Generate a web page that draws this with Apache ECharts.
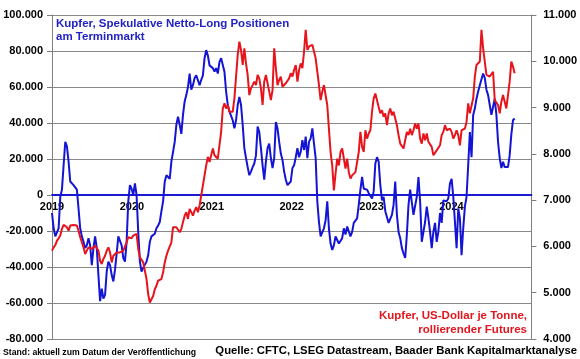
<!DOCTYPE html>
<html>
<head>
<meta charset="utf-8">
<script src="https://cdn.jsdelivr.net/npm/echarts@6/dist/echarts.min.js"></script>
<style>html,body{margin:0;padding:0;background:#fff;}#c{width:580px;height:359px;}</style>
</head>
<body>
<div id="c"></div>
<script>
// Sampling: first point at start of 2019, then one point about every 7.6 days
const startYear = 2019.0;
const stepYears = 0.020755;

// Kupfer, spekulative Netto-Long Positionen (Kontrakte), linke Achse
const netLong = [
  -10000, -18500, -23000, -24000, -18500, -1000, 3000, 16500, 29500, 27000,
  18500, 7500, 6500, 5500, 5500, 3000, -7500, -18500, -23000, -26000,
  -29500, -28000, -24000, -28000, -39000, -29500, -23000, -29500, -44500, -59000,
  -52000, -57500, -55500, -42500, -37000, -39000, -44500, -48000, -41500, -32500,
  -23000, -23000, -28000, -35000, -37000, -26000, -3500, 5500, 3500, 0,
  6500, 0, -20500, -37000, -42500, -40500, -41500, -37000, -33500, -26000,
  -23000, -22500, -21500, -18500, -17000, -15000, -9000, -3500, 7500, 11000,
  12000, 9000,
  18500, 24000, 29500, 39000, 43500, 39000, 34000, 44500, 52000, 55500,
  60000, 67500, 58500, 61000, 65000, 66500, 65500, 61000, 64000, 66500,
  76000, 80500, 77500, 72000, 71000, 70500, 68500, 70500, 67500, 74000,
  76000, 75000, 68500, 57500, 50000, 46500, 46500, 41500, 37000, 41500,
  50000, 54500, 50000, 39000, 26000, 20500, 15500, 11000, 13000, 15500,
  17500, 22000, 38000, 35000, 26000, 16500, 8500, 18500, 26000, 28500,
  20500, 15000, 20500, 40500, 37000, 29500, 23000, 19500, 13000, 8500,
  5500, 4500,
  7500, 15000, 16500, 21000, 26000, 21000, 24000, 30500, 25000, 32500,
  20500, 29500, 31500, 37000, 28500, 20500, -3500, -15000, -23000, -22000,
  -18500, -14000, -3500, -18500, -27000, -30500, -28000, -23000, -25000, -27000,
  -27000, -24000, -18500, -22000, -17500, -18500, -23000, -20500, -15500, -15500,
  -13000, -5500, 3000, 10000, 3500, 3000, 3000, 1000, 2000, -2000,
  2000, 17500, 21000, 18500, 5500, -3000, -1000, -9000, -10000, -15500,
  -16500, -11000, -5500, 7500, -11000, -20500, -24000, -29500, -32500, -35000,
  -22000, -5500,
  3000, 2000, -11000, -11000, -1000, 10000, -3500, -26000, -27000, -15000,
  -6500, -13000, -20500, -29500, -20500, -15500, -26000, -20500, -10000, -15500,
  -3000, -2000, -3500, -2000, 6500, 9000, -1000, -15000, -29500, -7500,
  -13000, -33500, -18500, -6500, -1000, 16500, 35000, 21000, 44500, 48000,
  53500, 57500, 61000, 62000, 67500, 65000, 58500, 55500, 50000, 44500,
  45500, 53500, 44500, 29500, 20500, 15000, 18500, 15500, 15000, 15500,
  22000, 33500, 41500, 42500
];

// Kupfer, US-Dollar je Tonne, rollierender Futures, rechte Achse
const price = [
  5910, 5980, 6030, 6125, 6175, 6235, 6380, 6465, 6435, 6415,
  6340, 6450, 6485, 6465, 6450, 6450, 6340, 6200, 6090, 5980,
  5835, 5910, 5980, 5980, 5945, 5980, 6015, 6015, 5910, 5690,
  5620, 5730, 5800, 5910, 5980, 5870, 5655, 5800, 5835, 5870,
  5910, 5870, 5835, 5910, 5945, 6090, 6200, 6160, 6175, 6235,
  6200, 6270, 5945, 5765, 5730, 5655, 5620, 5295, 4970, 4790,
  4790, 4930, 5075, 5150, 5260, 5220, 5295, 5440, 5655, 5800,
  5910, 5945,
  6090, 6415, 6450, 6415, 6380, 6305, 6380, 6525, 6665, 6740,
  6595, 6810, 6740, 6665, 6775, 6850, 6740, 6885, 7100, 7320,
  7535, 7750, 7935, 7825, 7970, 8115, 7970, 8005, 7895, 7895,
  8475, 8980, 9090, 8980, 9055, 8910, 8875, 8910, 9200, 9670,
  10140, 10425, 10245, 9920, 10280, 9955, 9705, 9270, 9415, 9485,
  9560, 9485, 9705, 9630, 9415, 9055, 9560, 9705, 9670, 9345,
  9160, 9380, 10280, 9850, 9485, 9595, 9670, 9450, 9450, 9525,
  9525, 9630,
  9740, 9670, 9810, 9920, 9560, 9810, 9955, 9850, 10210, 10680,
  10245, 10320, 10320, 10355, 10320, 10065, 9775, 9485, 9160, 9345,
  9485, 9450, 9055, 8545, 8040, 7750, 7210, 7570, 7895, 7750,
  8040, 8115, 8150, 7680, 7895, 7605, 7465, 7535, 7500, 7605,
  7645, 8040, 8475, 8150, 8040, 8510, 8330, 8440, 8510, 8910,
  9200, 9305, 9270, 9015, 8875, 8945, 8800, 8875, 8620, 8875,
  8980, 8835, 8910, 8765, 8620, 8405, 8220, 8260, 8115, 8295,
  8475, 8405,
  8545, 8405, 8510, 8655, 8545, 8655, 8330, 8220, 8440, 8295,
  8440, 8260, 8295, 8150, 7970, 7935, 8075, 8075, 8185, 8405,
  8475, 8620, 8510, 8545, 8545, 8475, 8330, 8405, 8510, 8405,
  8185, 8510, 8545, 8545, 8690, 9090, 8875, 8910, 9200, 9670,
  9920, 9955, 9995, 10680, 10280, 9995, 9705, 9740, 9670, 9630,
  9775, 9160, 9200, 9055, 8875, 9125, 9270, 9235, 8980, 9270,
  9560, 9995, 9885, 9740
];

const yearLabels = [2019, 2020, 2021, 2022, 2023, 2024];
const leftAxis = { min: -80000, max: 100000, step: 20000 };
const rightAxis = { min: 4000, max: 11000, step: 1000 };

const titleBlue = 'Kupfer, Spekulative Netto-Long Positionen\nam Terminmarkt';
const titleRed = 'Kupfer, US-Dollar je Tonne,\nrollierender Futures';
const noteLeft = 'Stand: aktuell zum Datum der Veröffentlichung';
const noteRight = 'Quelle: CFTC, LSEG Datastream, Baader Bank Kapitalmarktanalyse';

function fmt(v) {
  const s = Math.abs(v).toString().replace(/\B(?=(\d{3})+(?!\d))/g, '.');
  return (v < 0 ? '-' : '') + s;
}

const blueData = netLong.map((v, i) => [startYear + i * stepYears, v]);
const redData = price.map((v, i) => [startYear + i * stepYears, v]);

const FONT = '"Liberation Sans", Arial, sans-serif';
const gridTop = 15, gridBottom = 20, chartH = 359;
// x axis sits on the zero line of the left axis
const plotH = chartH - gridTop - gridBottom;
const zeroOffset = -plotH * (0 - leftAxis.min) / (leftAxis.max - leftAxis.min);

const chart = echarts.init(document.getElementById('c'), null, { renderer: 'canvas' });
chart.setOption({
  animation: false,
  backgroundColor: '#ffffff',
  grid: { left: 52, right: 47, top: gridTop, bottom: gridBottom, containLabel: false },
  xAxis: {
    type: 'value', min: 2019, max: 2025, interval: 1, offset: zeroOffset,
    axisLine: { show: true, onZero: false, lineStyle: { color: '#1a1ad2', width: 2 } },
    axisTick: { show: false },
    splitLine: { show: false },
    axisLabel: {
      margin: 6, color: '#000', fontWeight: 'bold', fontSize: 11, fontFamily: FONT,
      formatter: v => (yearLabels.indexOf(Math.round(v)) >= 0 && Math.abs(v - Math.round(v)) < 1e-6) ? String(Math.round(v)) : ''
    }
  },
  yAxis: [{
    type: 'value', position: 'left', min: leftAxis.min, max: leftAxis.max, interval: leftAxis.step,
    axisLine: { show: true, lineStyle: { color: '#7f7f7f', width: 1 } },
    axisTick: { show: true, inside: false, length: 5, lineStyle: { color: '#7f7f7f' } },
    splitLine: { show: true, lineStyle: { color: '#8a8a8a', width: 1 } },
    axisLabel: { margin: 9, color: '#000', fontWeight: 'bold', fontSize: 11, fontFamily: FONT, formatter: fmt }
  }, {
    type: 'value', position: 'right', min: rightAxis.min, max: rightAxis.max, interval: rightAxis.step,
    axisLine: { show: true, lineStyle: { color: '#7f7f7f', width: 1 } },
    axisTick: { show: true, inside: false, length: 5, lineStyle: { color: '#7f7f7f' } },
    splitLine: { show: false },
    axisLabel: { margin: 12, color: '#000', fontWeight: 'bold', fontSize: 11, fontFamily: FONT, formatter: fmt }
  }],
  series: [{
    type: 'line', yAxisIndex: 0, data: blueData, showSymbol: false, sampling: 'none',
    lineStyle: { color: '#1414d4', width: 2 }, z: 3
  }, {
    type: 'line', yAxisIndex: 1, data: redData, showSymbol: false, sampling: 'none',
    lineStyle: { color: '#e8141c', width: 2 }, z: 4
  }],
  graphic: [
    { type: 'text', x: 56, y: 17, z: 10, style: { text: titleBlue, fill: '#2222c4', font: 'bold 11.5px ' + FONT, lineHeight: 13, verticalAlign: 'top' } },
    { type: 'text', x: 527, y: 309, z: 10, style: { text: titleRed, fill: '#e2161e', font: 'bold 11.5px ' + FONT, lineHeight: 14, align: 'right', verticalAlign: 'top' } },
    { type: 'text', x: 3, y: 348, z: 10, style: { text: noteLeft, fill: '#000', font: 'bold 8.7px "Liberation Sans Narrow", ' + FONT, verticalAlign: 'top' } },
    { type: 'text', x: 577, y: 345, z: 10, style: { text: noteRight, fill: '#000', font: 'bold 11.3px ' + FONT, align: 'right', verticalAlign: 'top' } }
  ]
});
</script>
</body>
</html>
